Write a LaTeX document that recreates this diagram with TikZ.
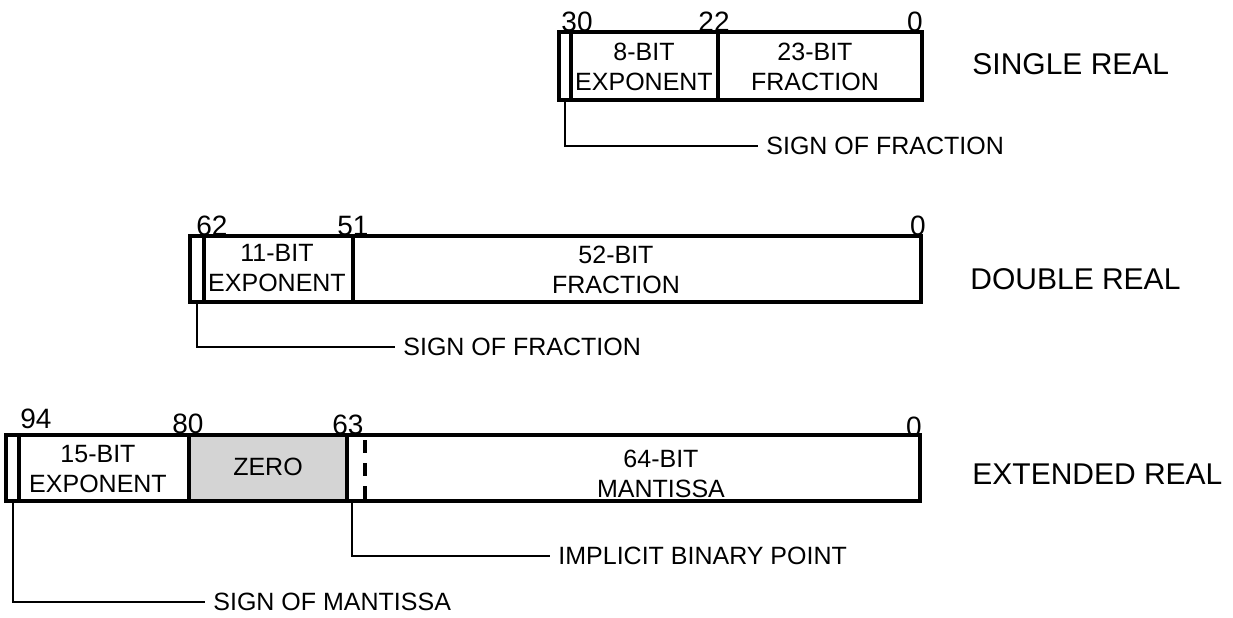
\documentclass[tikz,border=0pt]{standalone}
\usepackage{fontspec}
\setmainfont{Liberation Sans}

\begin{document}
\begin{tikzpicture}[x=0.5pt, y=-0.5pt,
    fieldtxt/.style={font=\fontsize{12.5}{15}\selectfont, align=center, inner sep=0pt},
    bitnum/.style={font=\fontsize{14}{16}\selectfont, anchor=base, inner sep=0pt},
    fmtname/.style={font=\fontsize{15}{17}\selectfont, anchor=west, inner sep=0pt},
    signlab/.style={font=\fontsize{12.5}{15}\selectfont, anchor=west, inner sep=4pt},
    conn/.style={line width=1.4pt}]

  \useasboundingbox (0,0) rectangle (1233,617);

  % ---- single real: top 32, bottom 100 ----
  \foreach \xa/\xb in {559/571, 571/718, 718/922}
    \draw[line width=1.7pt] (\xa,32) rectangle (\xb,100);
  \foreach \xx/\nm/\lab in {577/s30/30, 714/s22/22, 915/s0/0}
    \node[bitnum] (\nm) at (\xx,31) {\lab};
  \node[fieldtxt] (sexp) at (644,67) {8-BIT\\EXPONENT};
  \node[fieldtxt] (sfrac) at (815,67) {23-BIT\\FRACTION};
  \node[fmtname] (single) at (972,64) {SINGLE REAL};
  \coordinate (ssgn) at (565,100);
  \node[signlab] (slab) at (758,146) {SIGN OF FRACTION};
  \draw[conn] (ssgn) |- (slab.west);

  % ---- double real: top 236, bottom 302 ----
  \foreach \xa/\xb in {190/204, 204/353, 353/921}
    \draw[line width=1.7pt] (\xa,236) rectangle (\xb,302);
  \foreach \xx/\nm/\lab in {212/d62/62, 353/d51/51, 918/d0/0}
    \node[bitnum] (\nm) at (\xx,235) {\lab};
  \node[fieldtxt] (dexp) at (277,268) {11-BIT\\EXPONENT};
  \node[fieldtxt] (dfrac) at (616,270) {52-BIT\\FRACTION};
  \node[fmtname] (double) at (970,279) {DOUBLE REAL};
  \coordinate (dsgn) at (197,302);
  \node[signlab] (dlab) at (395,347) {SIGN OF FRACTION};
  \draw[conn] (dsgn) |- (dlab.west);

  % ---- extended real: top 435, bottom 501 ----
  \fill[black!17] (189,435) rectangle (347,501);
  \foreach \xa/\xb in {6/19, 19/189, 189/347, 347/920}
    \draw[line width=1.7pt] (\xa,435) rectangle (\xb,501);
  \draw[line width=1.7pt, dash pattern=on 6.5pt off 5pt] (365,440) -- (365,501);
  \foreach \xx/\yy/\nm/\lab in {36/428/e94/94, 188/433/e80/80, 348/434/e63/63, 914/436/e0/0}
    \node[bitnum] (\nm) at (\xx,\yy) {\lab};
  \node[fieldtxt] (eexp) at (98,469) {15-BIT\\EXPONENT};
  \node[fieldtxt] (ezero) at (268,467) {ZERO};
  \node[fieldtxt] (emant) at (661,474) {64-BIT\\MANTISSA};
  \node[fmtname] (extended) at (972,474) {EXTENDED REAL};
  \coordinate (esgn) at (13,501);
  \coordinate (epnt) at (352,501);
  \node[signlab] (plab) at (550,556) {IMPLICIT BINARY POINT};
  \node[signlab] (elab) at (205,602) {SIGN OF MANTISSA};
  \draw[conn] (epnt) |- (plab.west);
  \draw[conn] (esgn) |- (elab.west);

\end{tikzpicture}
\end{document}
